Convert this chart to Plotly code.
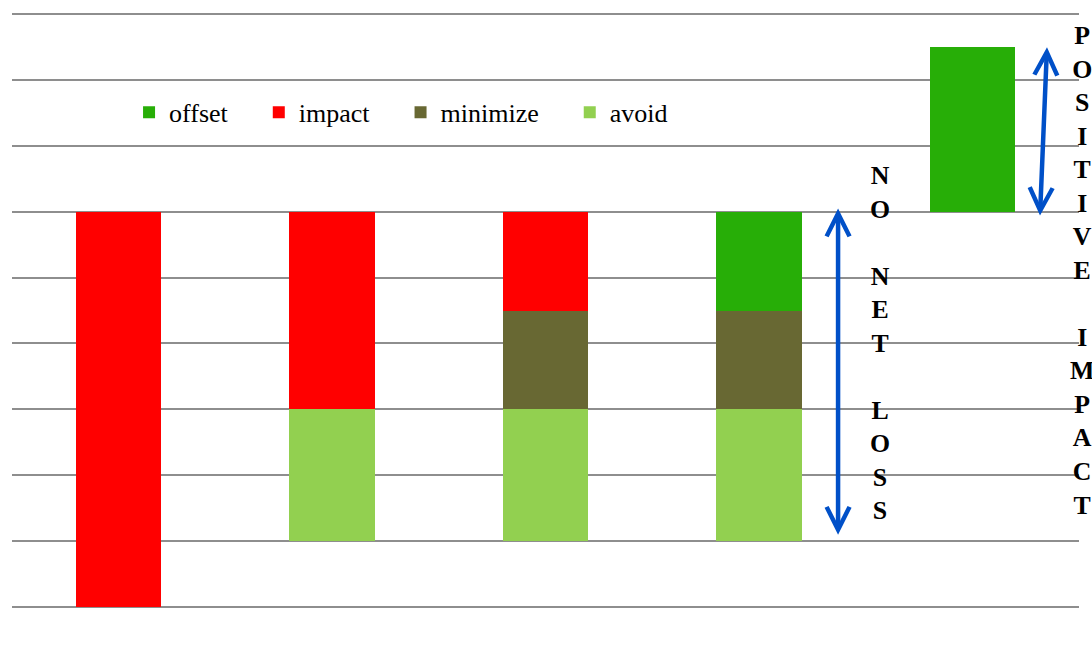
import plotly.graph_objects as go

categories = [0, 1, 2, 3, 4]
base = [0, 1, 1, 1, 6]
avoid = [0, 2, 2, 2, 0]
minimize = [0, 0, 1.5, 1.5, 0]
impact = [6, 3, 1.5, 0, 0]
offset = [0, 0, 0, 1.5, 2.5]

colors = {"offset": "#27AE07", "impact": "#FF0000", "minimize": "#686833", "avoid": "#92D050"}
pad = "\u00a0" * 4
serif = "Liberation Serif"

fig = go.Figure()
fig.add_trace(go.Bar(x=categories, y=base, marker=dict(color="rgba(0,0,0,0)", line=dict(width=0)),
                     showlegend=False, hoverinfo="skip"))
for name, vals in [("avoid", avoid), ("minimize", minimize), ("impact", impact), ("offset", offset)]:
    fig.add_trace(go.Bar(x=categories, y=vals, name=name + pad, marker=dict(color=colors[name], line=dict(width=0))))

arrow = dict(showarrow=True, text="", arrowhead=5, startarrowhead=5, arrowside="end+start",
             arrowwidth=4.5, arrowsize=1, startarrowsize=1, arrowcolor="#0050C8",
             xref="x", yref="y", axref="x", ayref="y", standoff=0, startstandoff=0)
fig.add_annotation(x=3.371, y=6.05, ax=3.371, ay=1.07, **arrow)
fig.add_annotation(x=4.35, y=8.5, ax=4.317, ay=5.92, **arrow)

fig.add_annotation(x=3.567, y=4.0, xref="x", yref="y", showarrow=False, xanchor="center",
                   text="<b>" + "<br>".join(list("NO") + [""] + list("NET") + [""] + list("LOSS")) + "</b>",
                   font=dict(family=serif, size=25.8, color="#000"), align="center")
fig.add_annotation(x=1.0028, y=5.11, xref="paper", yref="y", showarrow=False, xanchor="center",
                   text="<b>" + "<br>".join(list("POSITIVE") + [""] + list("IMPACT")) + "</b>",
                   font=dict(family=serif, size=25.8, color="#000"), align="center")

fig.update_layout(
    barmode="stack", bargap=0.6,
    width=1092, height=672,
    margin=dict(l=12, r=13, t=13, b=64),
    font=dict(family=serif, color="#000"),
    paper_bgcolor="white", plot_bgcolor="white",
    showlegend=True,
    legend=dict(orientation="h", traceorder="reversed", x=0.1097, y=0.833, xanchor="left", yanchor="middle",
                font=dict(family=serif, size=26, color="#000"), bgcolor="rgba(0,0,0,0)"),
    xaxis=dict(range=[-0.5, 4.5], showticklabels=False, showgrid=False, zeroline=False, showline=False, ticks=""),
    yaxis=dict(range=[-0.02, 9.02], dtick=1, showticklabels=False, showgrid=True, gridcolor="#8E8E8E", gridwidth=2,
               zeroline=False, showline=False, ticks=""),
)
fig.write_html("out.html")
